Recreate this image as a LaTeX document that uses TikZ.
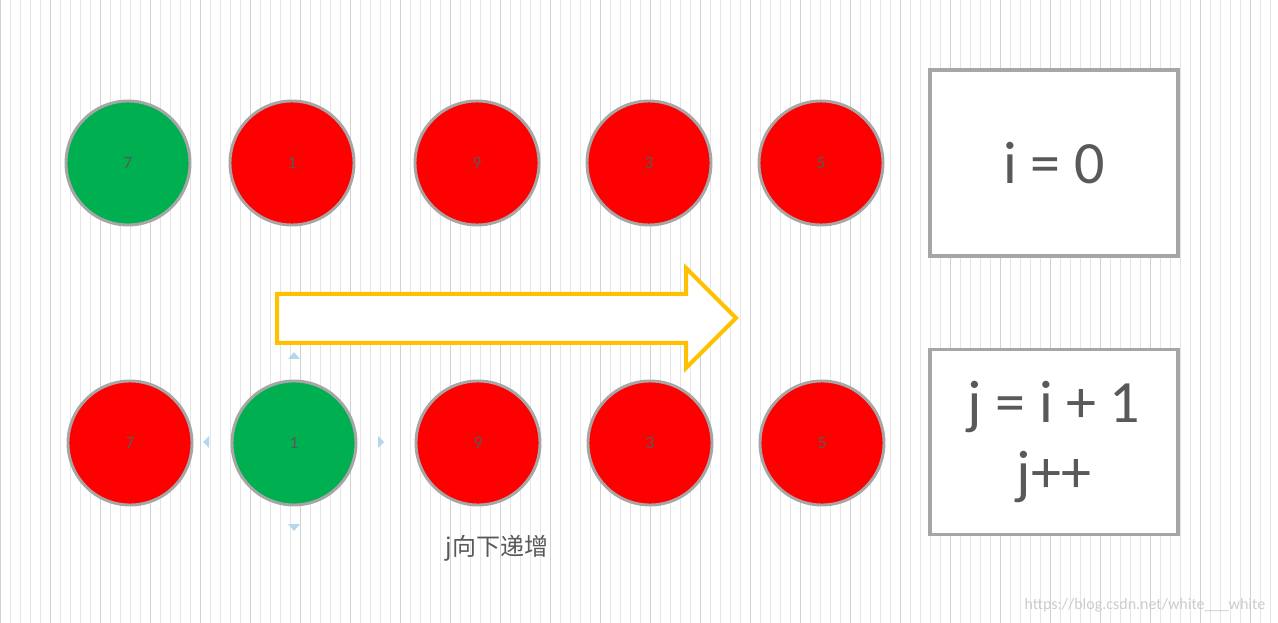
\documentclass[tikz,border=0pt]{standalone}
\usepackage{fontspec}
\setmainfont{Carlito}
\newfontfamily\cjk{Noto Sans CJK SC}
\definecolor{gr}{HTML}{00B050}
\definecolor{rd}{HTML}{FF0000}
\definecolor{bd}{HTML}{A6A6A6}
\definecolor{tx}{HTML}{595959}
\definecolor{yl}{HTML}{FFC000}
\definecolor{lb}{HTML}{B4D8EA}
\begin{document}
\begin{tikzpicture}[x=0.75pt,y=-0.75pt,
  ball/.style={circle,draw=bd,line width=2.2pt,minimum size=124*0.75pt,inner sep=0pt,text=tx,font=\fontsize{13}{13}\selectfont},
  box/.style={draw=bd,line width=2.5pt,fill=white,text=tx},
  tri/.style={fill=lb,draw=none}]
\useasboundingbox (0,0) rectangle (1278,623);
\fill[white] (0,0) rectangle (1278,623);
\draw[black!10,line width=0.3pt] (0,0) grid[step=10] (1278,623);
\draw[black!18,line width=0.4pt] (0,0) grid[step=50] (1278,623);
% top row
\node[ball,fill=gr] (a1) at (128,163) {7};
\node[ball,fill=rd] (a2) at (292,163) {1};
\node[ball,fill=rd] (a3) at (477,163) {9};
\node[ball,fill=rd] (a4) at (649,163) {3};
\node[ball,fill=rd] (a5) at (821,163) {5};
% bottom row
\node[ball,fill=rd] (b1) at (130,443) {7};
\node[ball,fill=gr] (b2) at (294,443) {1};
\node[ball,fill=rd] (b3) at (478,443) {9};
\node[ball,fill=rd] (b4) at (650,443) {3};
\node[ball,fill=rd] (b5) at (822,443) {5};
% handles
\fill[tri] (288,359) -- (300,359) -- (294,352) -- cycle;
\fill[tri] (288,524) -- (300,524) -- (294,531) -- cycle;
\fill[tri] (209,436) -- (209,448) -- (203,442) -- cycle;
\fill[tri] (378,436) -- (378,448) -- (384,442) -- cycle;
% arrow
\draw[yl,line width=3pt,fill=white,line join=miter] (277,294) -- (686,294) -- (686,268) -- (736,318) -- (686,368) -- (686,343) -- (277,343) -- cycle;
% boxes
\node[box,minimum width=248*0.75pt,minimum height=186*0.75pt,font=\fontsize{45}{45}\selectfont] (bi) at (1054,163) {i = 0};
\node[box,minimum width=248*0.75pt,minimum height=185*0.75pt,font=\fontsize{45}{52}\selectfont,align=center] (bj) at (1054,442) {j = i + 1\\j++};
\node[text=tx,font=\cjk\fontsize{18}{18}\selectfont] (lab) at (497,548) {j向下递增};
\node[text=black!20,font=\fontsize{12}{12}\selectfont,anchor=east] (wm) at (1270,605) {https://blog.csdn.net/white\_\_\_white};
\end{tikzpicture}
\end{document}
